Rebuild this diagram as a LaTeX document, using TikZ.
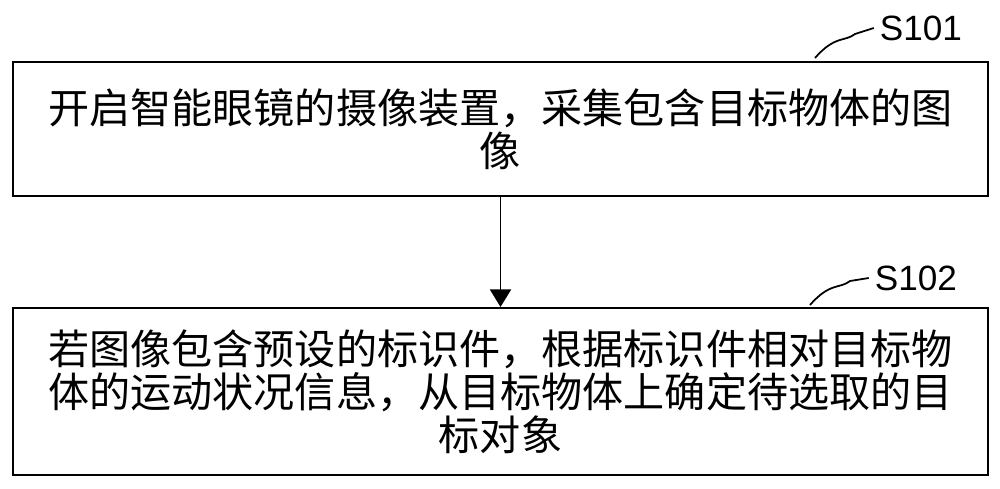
\documentclass[tikz,border=0pt]{standalone}
\usepackage{fontspec}
\newfontfamily\cjk{Noto Sans CJK SC}
\setsansfont{Liberation Sans}
\usetikzlibrary{arrows.meta,positioning}
\tikzset{
  stepbox/.style={draw, line width=1.2pt, minimum width=19.5cm, align=center, font=\cjk\fontsize{23.4}{24.5}\selectfont},
  steplabel/.style={font=\sffamily\fontsize{20}{22}\selectfont},
  squiggle/.style={line width=1pt}
}
\begin{document}
\begin{tikzpicture}[x=0.02cm,y=-0.02cm]
  \useasboundingbox (0,0) rectangle (1000,488);
  \node[stepbox, minimum height=2.68cm] (s1) at (500.5,129) {开启智能眼镜的摄像装置，采集包含目标物体的图\\像};
  \node[stepbox, minimum height=3.34cm] (s2) at (500.5,391.5) {若图像包含预设的标识件，根据标识件相对目标物\\体的运动状况信息，从目标物体上确定待选取的目\\标对象};
  \draw[line width=1pt, -{Triangle[length=10pt,width=12pt]}] (s1) -- (s2);
  % step labels
  \node[steplabel] (l1) at (921,28) {S101};
  \node[steplabel] (l2) at (916,278) {S102};
  \draw[squiggle] (815,58) .. controls (835,35) and (845,42) .. (855,34) -- (l1.west);
  \draw[squiggle] (810,305) .. controls (830,282) and (840,289) .. (850,281) -- (l2.west);
\end{tikzpicture}
\end{document}
